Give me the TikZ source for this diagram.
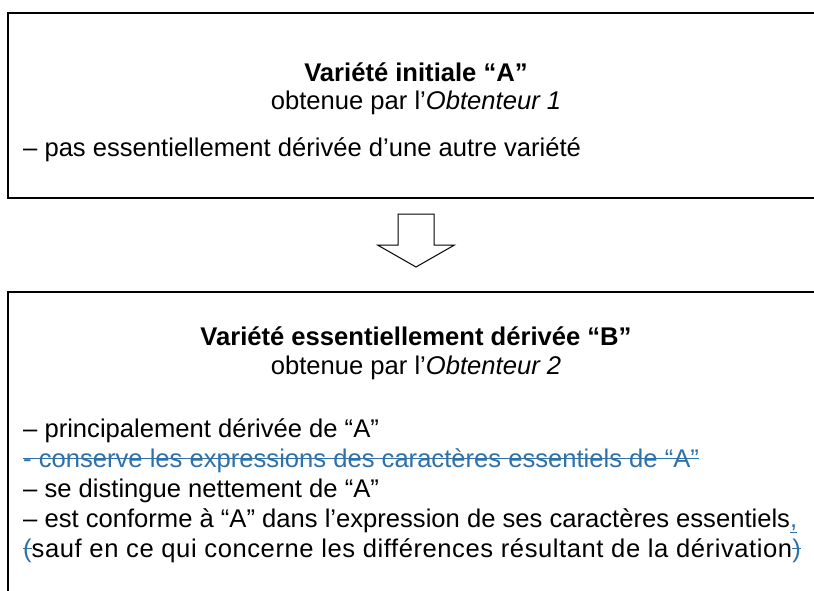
\documentclass[tikz,border=0pt]{standalone}
\usepackage{fontspec}
\setmainfont{Liberation Sans}
\definecolor{tcblue}{RGB}{46,112,170}
\newsavebox\tcbox
\newcommand\tcstrike[1]{\sbox\tcbox{#1}\rlap{\usebox\tcbox}\rule[0.3em]{\wd\tcbox}{1.3pt}}
\newcommand\tcunder[1]{\sbox\tcbox{#1}\rlap{\usebox\tcbox}\rule[-0.25em]{\wd\tcbox}{1.3pt}}

\begin{document}
\begin{tikzpicture}[x=1pt,y=-1pt,
    box/.style={draw,line width=2pt,rectangle,inner sep=0pt},
    head/.style={anchor=base,inner sep=0pt,font={\fontsize{25.6}{30}\selectfont}},
    body/.style={anchor=base west,inner sep=0pt,font={\fontsize{25.6}{30}\selectfont}},
    blockarrow/.style={draw,line width=1pt,line join=miter}]
    \useasboundingbox (0,0) rectangle (814,591);
    \clip (0,0) rectangle (814,591);
    % % ----- boxes ----- % %
    \node [box,minimum width=822pt,minimum height=185pt] (boxA) at (419,105.5) {}; 	% variete A
    \node [box,minimum width=822pt,minimum height=348pt] (boxB) at (419,466) {}; 	% variete B
    % % ----- texts A ----- % %
    \node [head] (titleA) at (416,82) {\textbf{Variété initiale “A”}};
    \node [head] (subA) at (416,110) {obtenue par l’\textit{Obtenteur 1}};
    \node [body] (lineA) at (23,157) {– pas essentiellement dérivée d’une autre variété};
    % % ----- texts B ----- % %
    \node [head] (titleB) at (416,345) {\textbf{Variété essentiellement dérivée “B”}};
    \node [head] (subB) at (416,374) {obtenue par l’\textit{Obtenteur 2}};
    \node [body] (lineB1) at (23,437) {– principalement dérivée de “A”};
    \node [body,text=tcblue] (lineB2) at (23,467) {\tcstrike{- conserve les expressions des caractères essentiels de “A”}};
    \node [body] (lineB3) at (23,497) {– se distingue nettement de “A”};
    \node [body] (lineB4) at (23,527) {– est conforme à “A” dans l’expression de ses caractères essentiels{\color{tcblue}\tcunder{,}}};
    \node [body] (lineB5) at (23,557) {\addfontfeature{LetterSpace=2.2}{\color{tcblue}\tcstrike{(}}sauf en ce qui concerne les différences résultant de la dérivation{\color{tcblue}\tcstrike{)}}};
    % % ----- arrow A-B ----- % %
    \coordinate (arr) at (398,214);
    \draw [blockarrow] (arr) -- ++(36,0) -- ++(0,31) -- ++(20.5,0) -- ++(-38.5,22) -- ++(-38.5,-22) -- ++(20.5,0) -- cycle;
\end{tikzpicture}
\end{document}
